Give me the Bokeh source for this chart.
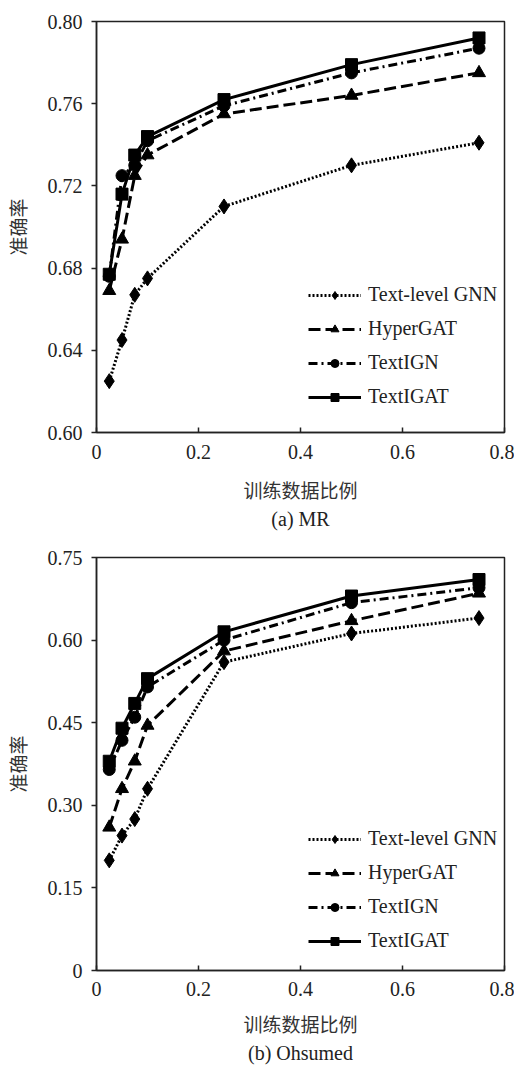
from bokeh.plotting import figure
from bokeh.layouts import column
from bokeh.models import FixedTicker, Legend, LegendItem, Title, Range1d
from bokeh.embed import file_html
from bokeh.resources import INLINE

# ---------------- data ----------------
train_ratio = [0.025, 0.05, 0.075, 0.1, 0.25, 0.5, 0.75]
series_names = ["Text-level GNN", "HyperGAT", "TextIGN", "TextIGAT"]

mr_gnn = [0.625, 0.645, 0.667, 0.675, 0.710, 0.730, 0.741]
mr_hypergat = [0.669, 0.694, 0.725, 0.735, 0.755, 0.764, 0.775]
mr_textign = [0.676, 0.725, 0.730, 0.742, 0.759, 0.775, 0.787]
mr_textigat = [0.677, 0.716, 0.735, 0.744, 0.762, 0.779, 0.792]

oh_gnn = [0.200, 0.245, 0.275, 0.330, 0.560, 0.612, 0.640]
oh_hypergat = [0.260, 0.330, 0.380, 0.445, 0.580, 0.635, 0.685]
oh_textign = [0.365, 0.418, 0.460, 0.515, 0.600, 0.668, 0.695]
oh_textigat = [0.380, 0.440, 0.485, 0.530, 0.615, 0.680, 0.710]

x_ticks = [0, 0.2, 0.4, 0.6, 0.8]
x_tick_labels = ["0", "0.2", "0.4", "0.6", "0.8"]
mr_y_ticks = [0.60, 0.64, 0.68, 0.72, 0.76, 0.80]
mr_y_tick_labels = ["0.60", "0.64", "0.68", "0.72", "0.76", "0.80"]
oh_y_ticks = [0, 0.15, 0.30, 0.45, 0.60, 0.75]
oh_y_tick_labels = ["0", "0.15", "0.30", "0.45", "0.60", "0.75"]

x_title = "训练数据比例"
y_title = "准确率"
captions = ["(a) MR", "(b) Ohsumed"]

# ---------------- styles ----------------
styles = [
    dict(dash="2 2", marker="diamond", size=15),
    dict(dash="12 5", marker="triangle", size=13),
    dict(dash="9 4 2 4", marker="circle", size=12),
    dict(dash="solid", marker="square", size=12),
]
SERIF = "Liberation Serif"
CJK = "Noto Sans CJK SC"
FS = "20px"


def make_chart(series, y0, y1, yt, ytl, caption, height, btop, bbottom,
               xtick_standoff, xlab_standoff, cap_standoff, leg_y):
    p = figure(width=514, height=height,
               x_range=Range1d(0, 0.8), y_range=Range1d(y0, y1),
               output_backend="svg", toolbar_location=None,
               min_border_left=93, min_border_right=10,
               min_border_top=btop, min_border_bottom=bbottom)
    p.xgrid.visible = False
    p.ygrid.visible = False
    p.outline_line_color = "#222222"
    p.outline_line_width = 1.5
    p.outline_line_alpha = 1.0
    p.background_fill_color = "white"
    p.border_fill_color = "white"

    xa = p.xaxis[0]
    xa.ticker = FixedTicker(ticks=x_ticks)
    xa.major_label_overrides = {t: l for t, l in zip(x_ticks, x_tick_labels)}
    xa.major_tick_in = 5
    xa.major_tick_out = 0
    xa.minor_tick_line_color = None
    xa.axis_line_width = 1.5
    xa.axis_line_color = "#222222"
    xa.major_tick_line_width = 1.5
    xa.major_tick_line_color = "#222222"
    xa.major_label_text_font = SERIF
    xa.major_label_text_font_size = FS
    xa.major_label_text_color = "#222222"
    xa.major_label_standoff = xtick_standoff
    xa.axis_label = x_title
    xa.axis_label_text_font = CJK
    xa.axis_label_text_font_size = "19px"
    xa.axis_label_text_font_style = "normal"
    xa.axis_label_text_color = "#333333"
    xa.axis_label_standoff = xlab_standoff

    ya = p.yaxis[0]
    ya.ticker = FixedTicker(ticks=yt)
    ya.major_label_overrides = {t: l for t, l in zip(yt, ytl)}
    ya.major_tick_in = 0
    ya.major_tick_out = 5
    ya.minor_tick_line_color = None
    ya.axis_line_width = 1.5
    ya.axis_line_color = "#222222"
    ya.major_tick_line_width = 1.5
    ya.major_tick_line_color = "#222222"
    ya.major_label_text_font = SERIF
    ya.major_label_text_font_size = FS
    ya.major_label_text_color = "#222222"
    ya.major_label_standoff = 9
    ya.axis_label = y_title
    ya.axis_label_text_font = CJK
    ya.axis_label_text_font_size = "19px"
    ya.axis_label_text_font_style = "normal"
    ya.axis_label_text_color = "#333333"
    ya.axis_label_standoff = 14

    items = []
    for name, ys, st in zip(series_names, series, styles):
        lr = p.line(train_ratio, ys, line_color="black", line_width=3,
                    line_dash=st["dash"])
        sr = p.scatter(train_ratio, ys, marker=st["marker"], size=st["size"],
                       fill_color="black", line_color="black")
        items.append(LegendItem(label=name, renderers=[lr, sr]))

    leg = Legend(items=items, location=(212, leg_y))
    leg.glyph_width = 53
    leg.glyph_height = 20
    leg.label_height = 20
    leg.spacing = 11
    leg.padding = 0
    leg.margin = 0
    leg.label_standoff = 7
    leg.label_text_font = SERIF
    leg.label_text_font_size = FS
    leg.label_text_color = "#222222"
    leg.border_line_color = None
    leg.background_fill_alpha = 0
    p.add_layout(leg)

    t = Title(text=caption, align="center", text_font=SERIF,
              text_font_size=FS, text_font_style="normal",
              text_color="#222222", standoff=cap_standoff)
    p.add_layout(t, "below")
    return p


p1 = make_chart([mr_gnn, mr_hypergat, mr_textign, mr_textigat],
                0.60, 0.80, mr_y_ticks, mr_y_tick_labels, captions[0],
                532, 21, 100, 12, 14, 0, 24)
p2 = make_chart([oh_gnn, oh_hypergat, oh_textign, oh_textigat],
                0.0, 0.75, oh_y_ticks, oh_y_tick_labels, captions[1],
                534, 25, 96, 11, 11, 0, 18)

layout = column(p1, p2, spacing=0)
open("out.html", "w").write(file_html(layout, INLINE))
